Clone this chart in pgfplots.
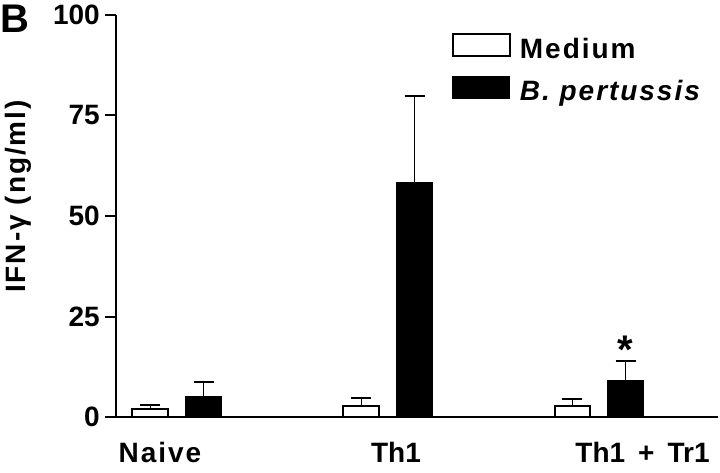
\documentclass[border=0pt]{standalone}
\usepackage{fontspec}
\setmainfont{Liberation Sans}
\newfontfamily\lsfont{Liberation Sans}[LetterSpace=7]
\usepackage{pgfplots}
\pgfplotsset{compat=1.18}
\begin{document}
\begin{tikzpicture}
\path[use as bounding box] (-116bp,-55.7bp) rectangle (604bp,417.3bp);
\begin{axis}[
  at={(0,0)}, anchor=south west,
  scale only axis, width=602bp, height=402.6bp,
  xmin=-0.2891, xmax=2.5640, ymin=0, ymax=100,
  axis lines*=left,
  axis line style={line width=2bp},
  ytick={0,25,50,75,100},
  xtick={-0.0806,1.0379,2.2062},
  xticklabels={{\lsfont Naive},Th1,{Th1\hspace{13bp}+\hspace{13bp}Tr1}},
  tick align=outside,
  major tick length=11bp,
  y tick style={line width=2bp, black},
  x tick style={draw=none},
  /pgf/number format/assume math mode=true,
  yticklabel style={font=\bfseries\fontsize{28bp}{28bp}\selectfont, inner sep=0pt, xshift=-5bp},
  xticklabel style={font=\bfseries\fontsize{28bp}{28bp}\selectfont, inner sep=0pt, anchor=north, yshift=-14bp},
  ylabel={\lsfont IFN-γ (ng/ml)},
  ylabel style={font=\bfseries\fontsize{28bp}{28bp}\selectfont, at={(axis description cs:-0.150,0.5484)}, anchor=base, inner sep=0pt},
  legend style={at={(0.5581,0.9545)}, anchor=north west, draw=none, fill=none, inner sep=0pt, outer sep=0pt,
    font=\bfseries\fontsize{28bp}{28bp}\selectfont\lsfont, row sep=16bp,
    nodes={inner sep=0pt},
    /tikz/every odd column/.append style={column sep=9bp}},
  legend cell align=left,
]
\addlegendimage{legend image code/.code={\draw[line width=2bp, fill=white] (0bp,-7bp) rectangle (57bp,15bp);}}
\addlegendentry{Medium}
\addlegendimage{legend image code/.code={\draw[line width=1bp, fill=black] (0bp,-7bp) rectangle (57bp,15bp);}}
\addlegendentry{\textit{B. pertussis}}
\addplot[forget plot, ybar, bar width=0.1706, bar shift=0pt, fill=white, draw=black, line width=2bp,
  error bars/.cd, y dir=plus, y explicit,
  error bar style={line width=1.8bp, black},
  error mark options={rotate=90, mark size=10bp, line width=2bp, black}]
  coordinates {(-0.1256,2.14) +- (0,0.99) (0.8744,2.88) +- (0,1.84) (1.8744,2.88) +- (0,1.74)};
\addplot[forget plot, ybar, bar width=0.1706, bar shift=0pt, fill=black, draw=black, line width=1bp,
  error bars/.cd, y dir=plus, y explicit,
  error bar style={line width=1.8bp, black},
  error mark options={rotate=90, mark size=10bp, line width=2bp, black}]
  coordinates {(0.1256,5.12) +- (0,3.72) (1.1256,58.2) +- (0,21.5) (2.1256,9.19) +- (0,4.79)};
\node[anchor=base, inner sep=0pt, font=\bfseries\fontsize{40bp}{40bp}\selectfont] at (axis cs:2.123,13.3) {*};
\end{axis}
\node[anchor=base west, inner sep=0pt, font=\bfseries\fontsize{40bp}{40bp}\selectfont] at (-116bp,384.3bp) {B};
\end{tikzpicture}
\end{document}
